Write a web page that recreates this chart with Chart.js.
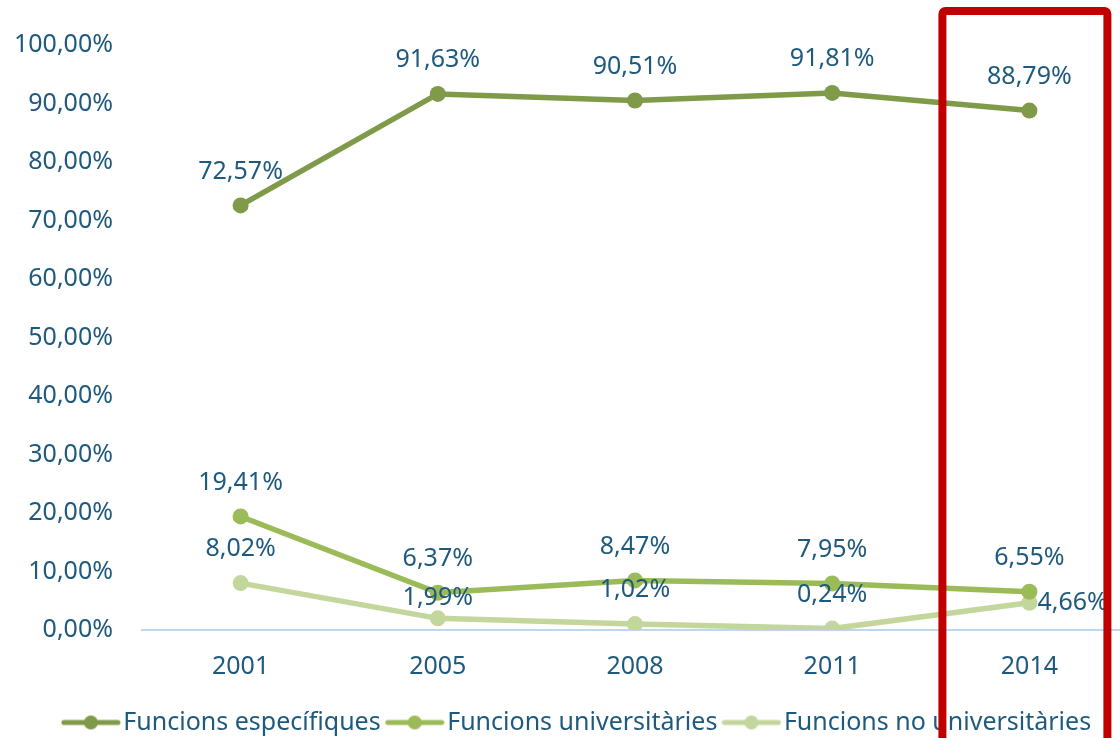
<!DOCTYPE html>
<html>
<head>
<meta charset="utf-8">
<script src="https://cdn.jsdelivr.net/npm/chart.js@4.4.1/dist/chart.umd.min.js"></script>
<style>
  html, body { margin: 0; padding: 0; background: #fff; overflow: hidden; }
  #wrap { width: 1136px; height: 738px; }
</style>
</head>
<body>
<div id="wrap"><canvas id="chart" width="1136" height="738"></canvas></div>
<script>
const years = ["2001", "2005", "2008", "2011", "2014"];
const especifiques = [72.57, 91.63, 90.51, 91.81, 88.79];
const universitaries = [19.41, 6.37, 8.47, 7.95, 6.55];
const noUniversitaries = [8.02, 1.99, 1.02, 0.24, 4.66];
const seriesNames = ["Funcions específiques", "Funcions universitàries", "Funcions no universitàries"];
const colors = ["#7F9A48", "#9BBB59", "#C3D69B"];
const textColor = "#1F5A7E";
const FONT = "'Noto Sans', sans-serif";

const fmt = v => v.toFixed(2).replace(".", ",") + "%";

// little line + dot used as legend marker
function legendMarker(color) {
  const c = document.createElement("canvas");
  c.width = 60; c.height = 20;
  const g = c.getContext("2d");
  g.strokeStyle = color; g.lineWidth = 5; g.lineCap = "round";
  g.beginPath(); g.moveTo(3, 10); g.lineTo(57, 10); g.stroke();
  g.fillStyle = color;
  g.beginPath(); g.arc(30, 10, 7, 0, Math.PI * 2); g.fill();
  return c;
}

const valueLabels = {
  id: "valueLabels",
  afterDatasetsDraw(chart) {
    const ctx = chart.ctx;
    ctx.save();
    ctx.font = "25px " + FONT;
    ctx.fillStyle = textColor;
    ctx.textBaseline = "middle";
    chart.data.datasets.forEach((ds, di) => {
      const meta = chart.getDatasetMeta(di);
      meta.data.forEach((pt, i) => {
        const txt = fmt(ds.data[i]);
        if (di === 2 && i === 4) {
          ctx.textAlign = "left";
          ctx.fillText(txt, pt.x + 8, pt.y);
        } else {
          ctx.textAlign = "center";
          ctx.fillText(txt, pt.x, pt.y - (di === 2 && i === 1 ? 20 : 34));
        }
      });
    });
    ctx.restore();
  }
};

const highlight = {
  id: "highlight",
  afterLayout(chart) {
    // legend sits a bit right of centre in the original
    chart.legend.left += 13;
    chart.legend.right += 13;
  },
  afterDraw(chart) {
    const x = chart.scales.x.getPixelForValue(4);
    const ctx = chart.ctx;
    ctx.save();
    ctx.strokeStyle = "#C00000";
    ctx.lineWidth = 8;
    ctx.beginPath();
    ctx.roundRect(x - 87, 11, 165, 760, 3);
    ctx.stroke();
    ctx.restore();
  }
};

const mk = (label, data, color) => ({
  label: label,
  data: data,
  borderColor: color,
  backgroundColor: color,
  borderWidth: 5.5,
  pointRadius: 8,
  pointHoverRadius: 8,
  pointBackgroundColor: color,
  pointBorderWidth: 0,
  tension: 0
});

new Chart(document.getElementById("chart"), {
  type: "line",
  data: {
    labels: years,
    datasets: [
      mk(seriesNames[0], especifiques, colors[0]),
      mk(seriesNames[1], universitaries, colors[1]),
      mk(seriesNames[2], noUniversitaries, colors[2])
    ]
  },
  options: {
    responsive: false,
    animation: false,
    layout: { padding: { top: 45, right: 0, left: 0, bottom: -7 } },
    plugins: {
      tooltip: { enabled: false },
      legend: {
        position: "bottom",
        labels: {
          usePointStyle: true,
          pointStyleWidth: 40,
          padding: 14,
          color: textColor,
          font: { family: FONT, size: 25 },
          generateLabels(chart) {
            return chart.data.datasets.map((ds, i) => ({
              text: ds.label,
              pointStyle: legendMarker(colors[i]),
              fillStyle: colors[i],
              strokeStyle: colors[i],
              lineWidth: 0,
              fontColor: textColor,
              datasetIndex: i
            }));
          }
        }
      }
    },
    scales: {
      x: {
        offset: true,
        grid: { display: false },
        border: { display: true, color: "#BDD7EE", width: 2 },
        ticks: { color: textColor, font: { family: FONT, size: 25 }, padding: 14 }
      },
      y: {
        min: 0,
        max: 100,
        afterFit(scale) { scale.width = 142; },
        grid: { display: false },
        border: { display: false },
        ticks: {
          stepSize: 10,
          padding: 21,
          color: textColor,
          font: { family: FONT, size: 25 },
          callback: v => fmt(v)
        }
      }
    }
  },
  plugins: [valueLabels, highlight]
});
</script>
</body>
</html>
